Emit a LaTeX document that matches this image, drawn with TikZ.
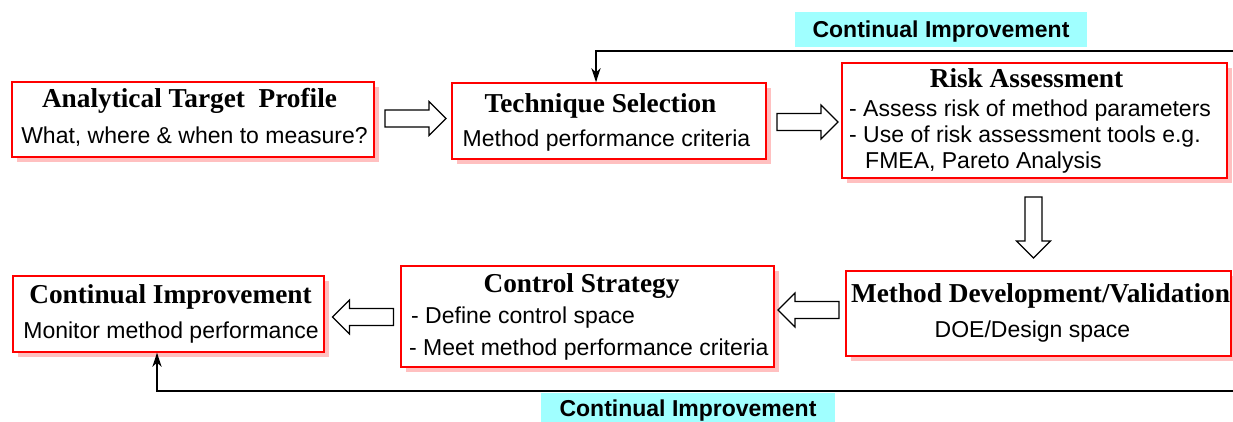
\documentclass[tikz,border=0pt]{standalone}
\usepackage{fontspec}
\setmainfont{Liberation Serif}
\setsansfont{Liberation Sans}
\usetikzlibrary{shadows,arrows.meta}
\definecolor{shadowpink}{HTML}{FFC0C0}
\definecolor{labelcyan}{HTML}{A0FFFF}
\tikzset{
  box/.style={draw=red, line width=1.3pt, fill=white, inner sep=0pt, rectangle,
    drop shadow={shadow xshift=5pt, shadow yshift=-5pt, fill=shadowpink, opacity=1, draw=none}},
  ttl/.style={font=\fontsize{27.3}{29}\selectfont\bfseries\rmfamily, inner sep=0pt, anchor=base},
  bdy/.style={font=\fontsize{23}{25}\selectfont\sffamily, inner sep=0pt, anchor=base},
  bdyl/.style={bdy, anchor=base west},
  blockline/.style={draw=black, fill=white, line width=1.1pt, line join=miter},
  fb/.style={line width=2.2pt, -{Stealth[length=14pt,width=9pt,inset=4pt]}},
  cilabel/.style={fill=labelcyan, inner sep=0pt, text depth=0pt, font=\fontsize{23}{25}\selectfont\sffamily\bfseries},
  barrow/.pic={
    \path[blockline] (-30.5,-8.5) -- (13.5,-8.5) -- (13.5,-17) -- (30.5,0)
      -- (13.5,17) -- (13.5,8.5) -- (-30.5,8.5) -- cycle;
    \coordinate (-tip) at (30.5,0);
    \coordinate (-tail) at (-30.5,0);
  },
}
\begin{document}
\begin{tikzpicture}[x=1pt,y=-1pt]
\useasboundingbox[fill=white] (0,0) rectangle (1233,422);
% boxes
\node[box, minimum width=362pt, minimum height=75pt] (atp) at (193,119.5) {};
\node[box, minimum width=314pt, minimum height=76pt] (ts) at (609,121) {};
\node[box, minimum width=385pt, minimum height=115pt] (ra) at (1034.5,120.5) {};
\node[box, minimum width=385pt, minimum height=85pt] (md) at (1038.5,313.5) {};
\node[box, minimum width=373pt, minimum height=101pt] (cs) at (587.5,316.5) {};
\node[box, minimum width=311pt, minimum height=76pt] (ci) at (168.5,314) {};
% texts
\node[ttl] (atpT) at (189.5,108) {Analytical Target\ \ Profile};
\node[bdy] (atpB) at (194.5,144) {What, where \& when to measure?};
\node[ttl] (tsT) at (600.5,113) {Technique Selection};
\node[bdy] (tsB) at (606.5,147) {Method performance criteria};
\node[ttl] (raT) at (1026.5,88) {Risk Assessment};
\node[bdyl] (ra1) at (849,117) {- Assess risk of method parameters};
\node[bdyl] (ra2) at (849,143) {- Use of risk assessment tools e.g.};
\node[bdyl] (ra3) at (865,168) {FMEA, Pareto Analysis};
\node[ttl] (mdT) at (1040.5,302) {Method Development/Validation};
\node[bdy] (mdB) at (1032.5,337) {DOE/Design space};
\node[ttl] (csT) at (581.5,292) {Control Strategy};
\node[bdyl] (cs1) at (411,323) {- Define control space};
\node[bdyl] (cs2) at (409,355) {- Meet method performance criteria};
\node[ttl] (ciT) at (170.5,303) {Continual Improvement};
\node[bdy] (ciB) at (171,338) {Monitor method performance};
% block arrows
\pic (a1) at (415.5,118.5) {barrow};
\pic (a2) at (807.5,122) {barrow};
\pic[rotate=-90] (a3) at (1033.5,227.5) {barrow};
\pic[rotate=180] (a4) at (808.5,310) {barrow};
\pic[rotate=180] (a5) at (363,317) {barrow};
% feedback loops
\coordinate (topR) at (1233,51);
\coordinate (botR) at (1233,391);
\draw[fb] (topR) -| ([xshift=-13pt]ts.north);
\draw[fb] (botR) -| ([xshift=-11.5pt]ci.south);
% labels
\node[cilabel, minimum width=292pt, minimum height=35pt] (topL) at (941,29.5) {Continual Improvement};
\node[cilabel, minimum width=294pt, minimum height=30pt] (botL) at (688,408) {Continual Improvement};
\end{tikzpicture}
\end{document}
